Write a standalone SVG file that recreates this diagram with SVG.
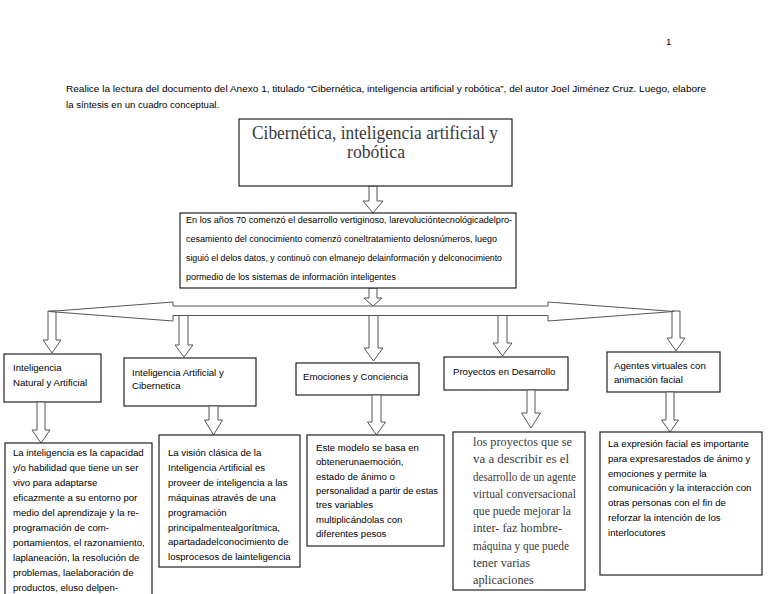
<svg xmlns="http://www.w3.org/2000/svg" width="768" height="594" viewBox="0 0 768 594">
<style>
.box{fill:#fff;stroke:#222;stroke-width:1.2}
.arr{fill:#fff;stroke:#555;stroke-width:1}
.t{font-family:"Liberation Sans",Arial,sans-serif;font-size:9.6px;fill:#000}
.s{font-family:"Liberation Serif","Times New Roman",serif;fill:#3a3a3a}
.d{font-family:"Liberation Serif","Times New Roman",serif;font-size:12.3px;fill:#3a3a3a}
</style>
<rect width="768" height="594" fill="#fff"/>
<g id="header">
<text class="t" x="666" y="45">1</text>
<text class="t" x="66" y="92" textLength="640" lengthAdjust="spacingAndGlyphs">Realice la lectura del documento del Anexo 1, titulado “Cibernética, inteligencia artificial y robótica”, del autor Joel Jiménez Cruz. Luego, elabore</text>
<text class="t" x="66" y="108">la síntesis en un cuadro conceptual.</text>
</g>
<g id="connectors">
<path class="arr" d="M369,186 L369,201 L363,201 L373,213 L383,201 L377,201 L377,186 Z"/>
<path class="arr" d="M369,288 L369,298 L364,298 L373,306 L382,298 L377,298 L377,288 Z"/>
<path class="arr" d="M48,311 L48,340 L43,340 L52,353 L61,340 L56,340 L56,311 Z"/>
<path class="arr" d="M179,315 L179,345 L175,345 L184,357 L193,345 L188,345 L188,315 Z"/>
<path class="arr" d="M369,315 L369,348 L364,348 L373.5,361 L383,348 L378,348 L378,315 Z"/>
<path class="arr" d="M498,315 L498,343 L493,343 L502.5,356 L512,343 L507,343 L507,315 Z"/>
<path class="arr" d="M672,311 L672,338 L667,338 L676,351 L685,338 L680,338 L680,311 Z"/>
<path class="arr" d="M49,311.5 L173,302 L173,306 L548,306 L548,302 L674,311.5 L548,321 L548,315.5 L173,315.5 L173,321 Z"/>
</g>
<g id="n-title">
<rect class="box" x="239" y="119" width="273" height="67"/>
<text class="s" x="252" y="139" font-size="19" textLength="246" lengthAdjust="spacingAndGlyphs">Cibernética, inteligencia artificial y</text>
<text class="s" x="347" y="158" font-size="19" textLength="58" lengthAdjust="spacingAndGlyphs">robótica</text>
</g>
<g id="n-intro">
<rect class="box" x="180" y="213" width="336" height="75"/>
<text class="t" x="186" y="222.5" font-size="10" textLength="326" lengthAdjust="spacingAndGlyphs">En los años 70 comenzó el desarrollo vertiginoso,  larevolucióntecnológicadelpro-</text>
<text class="t" x="186" y="241.5" font-size="10" textLength="311" lengthAdjust="spacingAndGlyphs">cesamiento del conocimiento comenzó coneltratamiento  delosnúmeros, luego</text>
<text class="t" x="186" y="260.5" font-size="10" textLength="316" lengthAdjust="spacingAndGlyphs">siguió el delos datos, y continuó con  elmanejo delainformación y  delconocimiento</text>
<text class="t" x="186" y="279.5" font-size="10" textLength="210" lengthAdjust="spacingAndGlyphs">pormedio de los sistemas de información inteligentes</text>
</g>
<g id="n-natural">
<rect class="box" x="4" y="354" width="97" height="48"/>
<text class="t" x="13" y="370.5">Inteligencia</text>
<text class="t" x="13" y="385.5">Natural y Artificial</text>
</g>
<g id="n-ia">
<rect class="box" x="124" y="358" width="132" height="48"/>
<text class="t" x="132" y="375.5">Inteligencia Artificial y</text>
<text class="t" x="132" y="389">Cibernetica</text>
</g>
<g id="n-emociones">
<rect class="box" x="296" y="363" width="123" height="32"/>
<text class="t" x="303" y="380">Emociones y Conciencia</text>
</g>
<g id="n-proyectos">
<rect class="box" x="444" y="357" width="124" height="33"/>
<text class="t" x="453" y="375">Proyectos en Desarrollo</text>
</g>
<g id="n-agentes">
<rect class="box" x="607" y="352" width="113" height="40"/>
<text class="t" x="614" y="369">Agentes virtuales con</text>
<text class="t" x="614" y="383">animación facial</text>
</g>
<g id="connectors-lower">
<path class="arr" d="M37,402 L37,430 L32,430 L41,443 L50,430 L45,430 L45,402 Z"/>
<path class="arr" d="M209,406 L209,420 L204.5,420 L213.5,435 L222.5,420 L218,420 L218,406 Z"/>
<path class="arr" d="M372,395 L372,422 L367.5,422 L376.5,435 L385.5,422 L381,422 L381,395 Z"/>
<path class="arr" d="M527,390 L527,413 L521.5,413 L531,428 L540.5,413 L535,413 L535,390 Z"/>
<path class="arr" d="M666,392 L666,420 L661.5,420 L670,432 L678.5,420 L674,420 L674,392 Z"/>
</g>
<g id="n-text-natural">
<rect class="box" x="5" y="443" width="147" height="160"/>
<text class="t" x="13" y="455.5">La inteligencia es la capacidad</text>
<text class="t" x="13" y="470.6">y/o habilidad que tiene un ser</text>
<text class="t" x="13" y="485.7">vivo para adaptarse</text>
<text class="t" x="13" y="500.8">eficazmente a su entorno por</text>
<text class="t" x="13" y="515.9">medio del aprendizaje y la re-</text>
<text class="t" x="13" y="531">programación de com-</text>
<text class="t" x="13" y="546.1">portamientos, el razonamiento,</text>
<text class="t" x="13" y="561.2">laplaneación, la resolución de</text>
<text class="t" x="13" y="576.3">problemas, laelaboración de</text>
<text class="t" x="13" y="591.4">productos, eluso delpen-</text>
</g>
<g id="n-text-ia">
<rect class="box" x="159" y="435" width="141" height="132"/>
<text class="t" x="168" y="456">La visión clásica de la</text>
<text class="t" x="168" y="470.9">Inteligencia Artificial es</text>
<text class="t" x="168" y="485.8">proveer de inteligencia a las</text>
<text class="t" x="168" y="500.7">máquinas através de una</text>
<text class="t" x="168" y="515.6">programación</text>
<text class="t" x="168" y="530.5">principalmentealgorítmica,</text>
<text class="t" x="168" y="545.4">apartadadelconocimiento de</text>
<text class="t" x="168" y="560.3">losprocesos de lainteligencia</text>
</g>
<g id="n-text-emociones">
<rect class="box" x="307" y="435" width="137" height="111"/>
<text class="t" x="316" y="451">Este modelo se basa en</text>
<text class="t" x="316" y="465.3">obtenerunaemoción,</text>
<text class="t" x="316" y="479.6">estado de ánimo o</text>
<text class="t" x="316" y="493.9" textLength="122" lengthAdjust="spacingAndGlyphs">personalidad a partir de estas</text>
<text class="t" x="316" y="508.2">tres variables</text>
<text class="t" x="316" y="522.5">multiplicándolas con</text>
<text class="t" x="316" y="536.8">diferentes pesos</text>
</g>
<g id="n-text-proyectos">
<rect class="box" x="453" y="432" width="132" height="158"/>
<text class="d" x="473" y="446" textLength="99" lengthAdjust="spacingAndGlyphs">los proyectos que se</text>
<text class="d" x="473" y="463.3" textLength="96" lengthAdjust="spacingAndGlyphs">va a describir es el</text>
<text class="d" x="473" y="480.5" textLength="103" lengthAdjust="spacingAndGlyphs">desarrollo de un agente</text>
<text class="d" x="473" y="497.8" textLength="103" lengthAdjust="spacingAndGlyphs">virtual conversacional</text>
<text class="d" x="473" y="515" textLength="98" lengthAdjust="spacingAndGlyphs">que puede mejorar la</text>
<text class="d" x="473" y="532.3" textLength="89" lengthAdjust="spacingAndGlyphs">inter- faz hombre-</text>
<text class="d" x="473" y="549.5" textLength="96" lengthAdjust="spacingAndGlyphs">máquina y que puede</text>
<text class="d" x="473" y="566.8">tener varias</text>
<text class="d" x="473" y="584">aplicaciones</text>
</g>
<g id="n-text-agentes">
<rect class="box" x="600" y="432" width="162" height="143"/>
<text class="t" x="608" y="447">La expresión facial es importante</text>
<text class="t" x="608" y="461.8">para expresarestados de ánimo y</text>
<text class="t" x="608" y="476.6">emociones y permite la</text>
<text class="t" x="608" y="491.4">comunicación y la interacción con</text>
<text class="t" x="608" y="506.2">otras personas con el fin de</text>
<text class="t" x="608" y="521">reforzar la intención de los</text>
<text class="t" x="608" y="535.8">interlocutores</text>
</g>
</svg>
